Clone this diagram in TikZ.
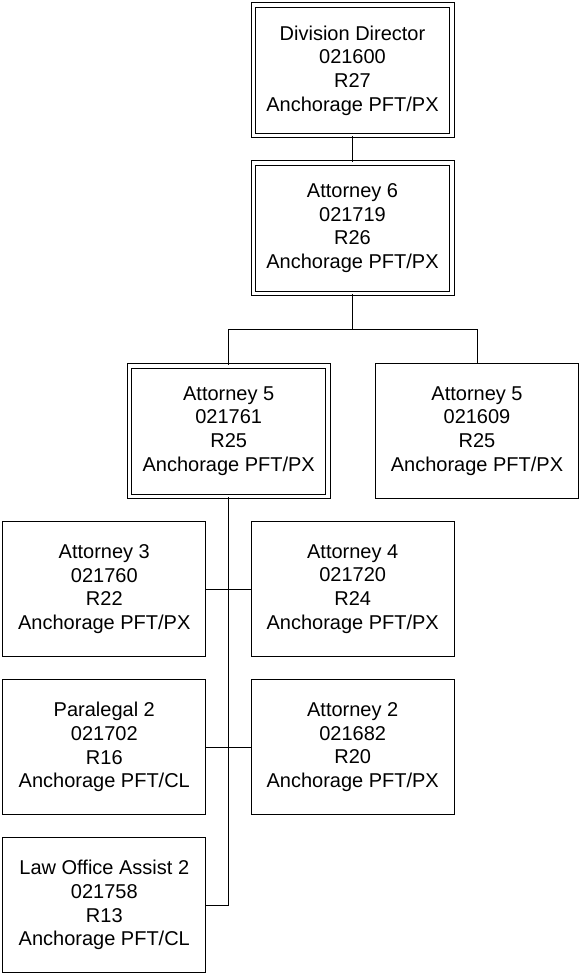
\documentclass[tikz,border=0pt]{standalone}
\usepackage{fontspec}
\setmainfont{Liberation Sans}
\usepackage{tikz}
\usetikzlibrary{positioning,calc}

\begin{document}
\begin{tikzpicture}[x=1pt,y=1pt,
  every node/.style={font=\fontsize{20}{23.7}\selectfont},
  post/.style={draw,line width=1pt,minimum width=203pt,minimum height=135pt,
    inner sep=0pt,align=center},
  postd/.style={post,double,double distance=3.5pt,minimum width=198.5pt,
    minimum height=130.5pt},
  link/.style={line width=1pt}]
\useasboundingbox (0,0) rectangle (580,-973);
\node[postd] (dd) at (352.5,-70.5) {Division Director\\021600\\R27\\Anchorage PFT/PX};
\node[postd] (a6) at (352.5,-228.2) {Attorney 6\\021719\\R26\\Anchorage PFT/PX};
\node[postd] (a5l) at (228.7,-431) {Attorney 5\\021761\\R25\\Anchorage PFT/PX};
\node[post] (a5r) at (477,-430.8) {Attorney 5\\021609\\R25\\Anchorage PFT/PX};
\node[post] (a3) at (104.3,-589) {Attorney 3\\021760\\R22\\Anchorage PFT/PX};
\node[post] (a4) at (352.7,-589) {Attorney 4\\021720\\R24\\Anchorage PFT/PX};
\node[post] (pl2) at (104.3,-747) {Paralegal 2\\021702\\R16\\Anchorage PFT/CL};
\node[post] (a2) at (352.7,-747) {Attorney 2\\021682\\R20\\Anchorage PFT/PX};
\node[post] (loa) at (104.3,-905.2) {Law Office Assist 2\\021758\\R13\\Anchorage PFT/CL};
% connectors
\coordinate (split) at (352.5,-329.3);
\coordinate (tail) at (a5l.south |- loa.east);
\draw[link] (dd) -- (a6);
\draw[link] (a6) -- (split);
\draw[link] (split) -| (a5l);
\draw[link] (split) -| (a5r);
\draw[link] (a5l) -- (tail) -- (loa);
\draw[link] (a3) -- (a4);
\draw[link] (pl2) -- (a2);
\end{tikzpicture}
\end{document}
